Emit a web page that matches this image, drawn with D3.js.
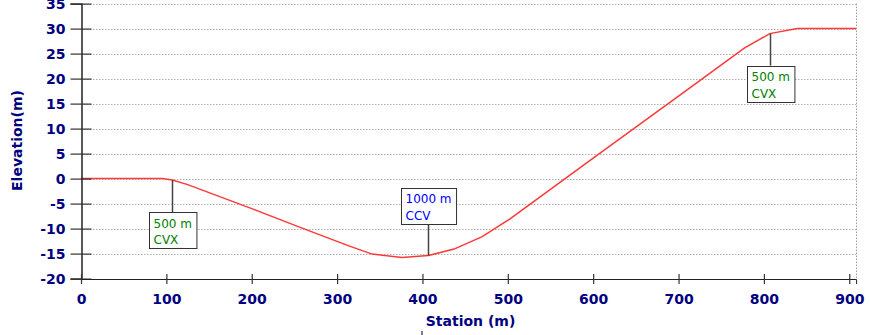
<!DOCTYPE html>
<html><head><meta charset="utf-8">
<script src="https://cdn.jsdelivr.net/npm/d3@7"></script>
<style>
html,body{margin:0;padding:0;background:#fff;}
svg{display:block;}
text{font-family:"DejaVu Sans",Verdana,sans-serif;}
</style></head>
<body>
<svg id="chart" width="870" height="335"></svg>
<script>
// ---- data ----
const stations   = [0, 95, 107, 125, 200, 256, 313, 341, 376, 407, 437, 470, 503, 600, 700, 777, 807, 839, 908];
const elevations = [0, 0, -0.3, -1.2, -6.0, -9.7, -13.4, -15.1, -15.8, -15.4, -14.1, -11.6, -8.0, 4.1, 16.5, 26.1, 29.0, 30, 30];
const xTickValues = [0, 100, 200, 300, 400, 500, 600, 700, 800, 900];
const yTickValues = [-20, -15, -10, -5, 0, 5, 10, 15, 20, 25, 30, 35];
const calloutStations = [107, 407, 807];
const calloutElevations = [-0.3, -15.4, 29.0];
const calloutRadius = ["500 m", "1000 m", "500 m"];
const calloutType = ["CVX", "CCV", "CVX"];
const xTitle = "Station (m)";
const yTitle = "Elevation(m)";

// ---- layout ----
const svg = d3.select("#chart");
const x = d3.scaleLinear().domain([0, 908]).range([81, 856.1]);
const y = d3.scaleLinear().domain([-20, 35]).range([278.6, 3.6]);
const navy = "#000080";
const fmt = d => String(d); // plain hyphen-minus like the reference

// gridlines (dotted, horizontal)
svg.append("g").selectAll("line").data(yTickValues.filter(v => v !== -20)).join("line")
  .attr("x1", x(0)).attr("x2", x.range()[1])
  .attr("y1", d => Math.round(y(d)) + 0.5).attr("y2", d => Math.round(y(d)) + 0.5)
  .attr("stroke", "#b0b0b0").attr("stroke-width", 1).attr("stroke-dasharray", "1.5,1.5");

// right frame (dotted)
svg.append("line")
  .attr("x1", Math.round(x.range()[1]) + 0.5).attr("x2", Math.round(x.range()[1]) + 0.5)
  .attr("y1", y(35)).attr("y2", y(-20))
  .attr("stroke", "#999").attr("stroke-dasharray", "1.5,1.5");

// profile line
const line = d3.line().x((d, i) => x(stations[i])).y(d => y(d));
svg.append("path").datum(elevations)
  .attr("d", line).attr("fill", "none")
  .attr("stroke", "#ff3838").attr("stroke-width", 1.5);

// y axis
const yAxis = svg.append("g").attr("transform", "translate(81.5,0)")
  .call(d3.axisLeft(y).tickValues(yTickValues).tickSize(11).tickPadding(5).tickFormat(fmt));
yAxis.select(".domain").attr("stroke", "#000").attr("stroke-width", 1.3);
yAxis.selectAll(".tick line").attr("x1", 10).attr("stroke", "#333").attr("stroke-width", 1.2);
yAxis.selectAll(".tick text").attr("fill", navy).attr("font-size", 14).attr("font-weight", "bold")
  .attr("font-family", "DejaVu Sans, sans-serif");

// x axis
const xAxis = svg.append("g").attr("transform", "translate(0,279)")
  .call(d3.axisBottom(x).tickValues(xTickValues).tickSize(5).tickPadding(10).tickFormat(fmt));
xAxis.select(".domain").attr("stroke", "#222").attr("stroke-width", 1);
xAxis.selectAll(".tick line").attr("y1", -5).attr("stroke", "#333").attr("stroke-width", 1.2);
xAxis.selectAll(".tick text").attr("fill", navy).attr("font-size", 14).attr("font-weight", "bold")
  .attr("font-family", "DejaVu Sans, sans-serif");

// axis titles
svg.append("text").attr("x", 470.5).attr("y", 326).attr("text-anchor", "middle")
  .attr("fill", navy).attr("font-size", 14).attr("font-weight", "bold").text(xTitle);
svg.append("text").attr("transform", "translate(22,140.5) rotate(-90)").attr("text-anchor", "middle")
  .attr("fill", navy).attr("font-size", 14).attr("font-weight", "bold").text(yTitle);

// small cursor mark under the x title
svg.append("line").attr("x1", 422).attr("x2", 422).attr("y1", 331).attr("y2", 335)
  .attr("stroke", "#000").attr("stroke-width", 1);

// callouts
const stem = 32, boxH = 36;
calloutStations.forEach((s, i) => {
  const px = Math.round(x(s)) + 0.5, py = y(calloutElevations[i]);
  const below = calloutType[i] === "CVX";
  const color = below ? "#008000" : "#0000ff";
  const g = svg.append("g");
  const boxTop = below ? py + stem : py - stem - boxH;
  g.append("line").attr("x1", px).attr("x2", px)
    .attr("y1", py).attr("y2", below ? boxTop : boxTop + boxH)
    .attr("stroke", "#444").attr("stroke-width", 1.5);
  const t1 = g.append("text").attr("font-size", 12).attr("fill", color)
    .text(calloutRadius[i]);
  const w = Math.max(t1.node().getComputedTextLength(), 30) + 9;
  const left = Math.round(px - w / 2) + 0.5;
  g.insert("rect", "text").attr("x", left).attr("y", Math.round(boxTop) + 0.5)
    .attr("width", w).attr("height", boxH).attr("fill", "#fff").attr("stroke", "#333").attr("stroke-width", 1);
  t1.attr("x", left + 4).attr("y", boxTop + 15.5);
  g.append("text").attr("font-size", 12).attr("fill", color)
    .attr("x", left + 4).attr("y", boxTop + 32).text(calloutType[i]);
});
</script>
</body></html>
